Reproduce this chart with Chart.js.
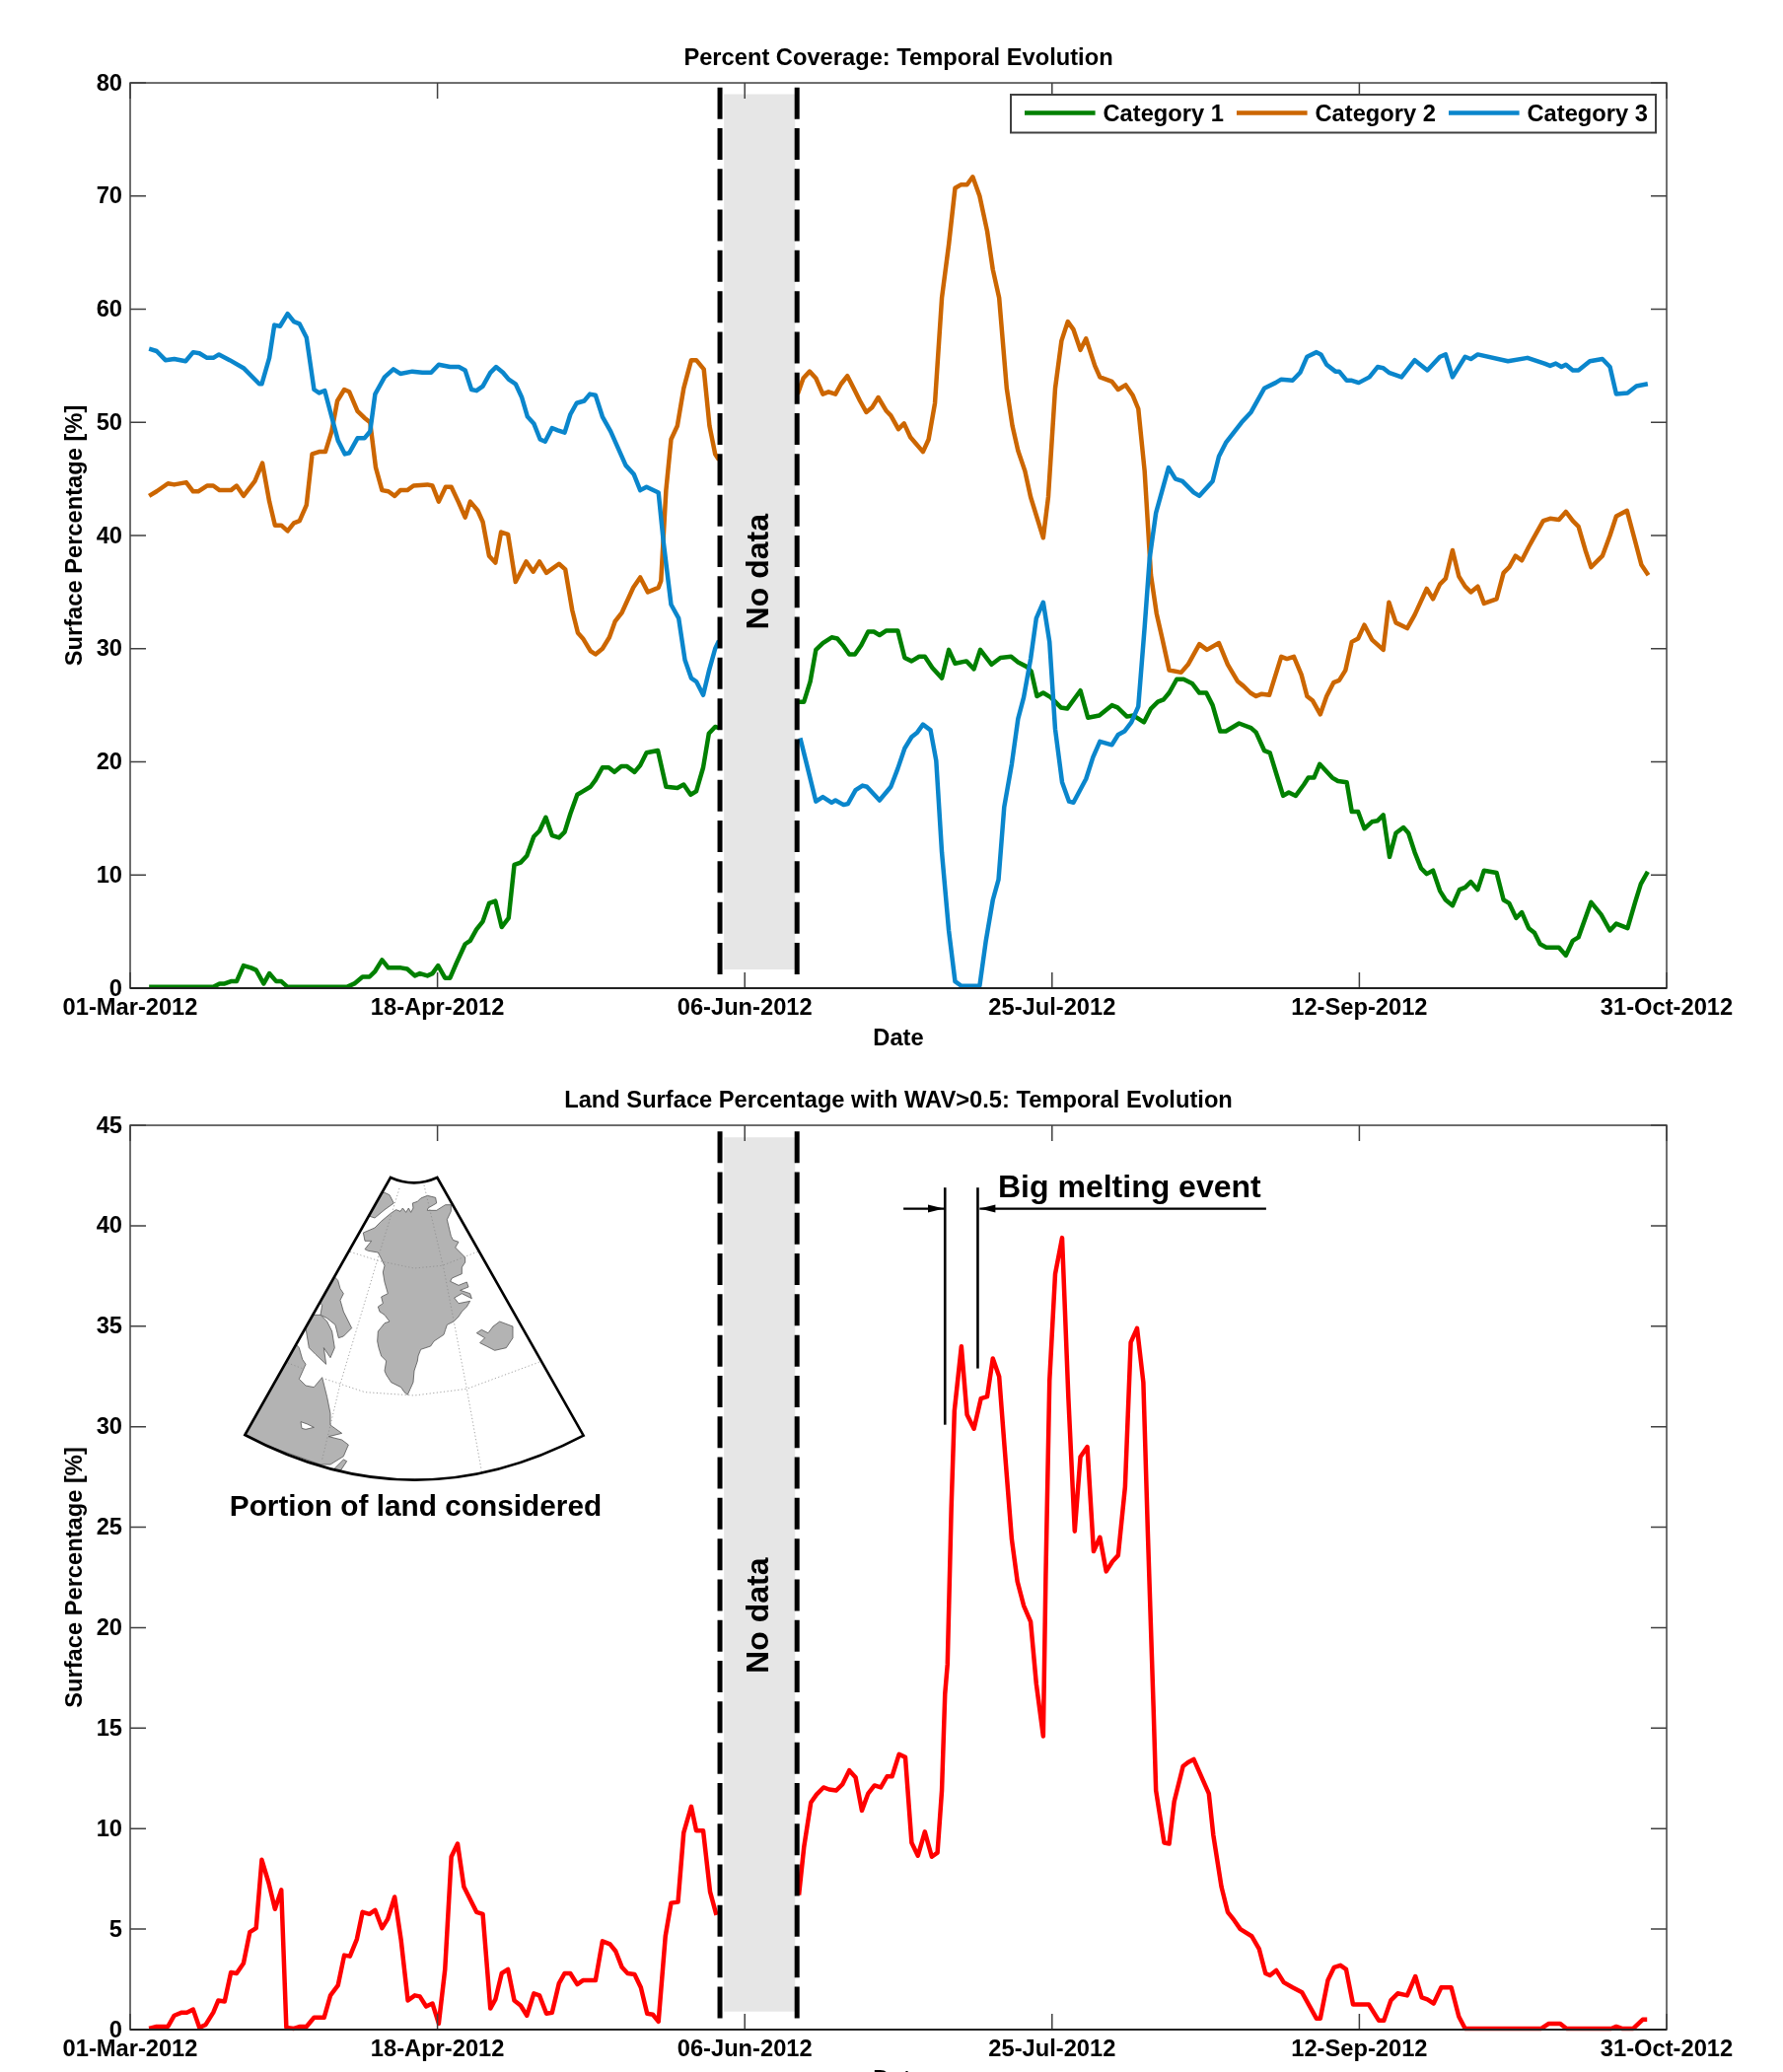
<!DOCTYPE html>
<html><head><meta charset="utf-8">
<script src="https://cdn.jsdelivr.net/npm/chart.js@4"></script>
<style>
html,body{margin:0;padding:0;background:#fff;width:1808px;height:2101px;overflow:hidden}
canvas{position:absolute;left:0}
#c1{top:0}#c2{top:1057px}
</style></head><body>
<canvas id="c1" width="1808" height="1110"></canvas>
<canvas id="c2" width="1808" height="1110"></canvas>
<script>
const xTickDays=[0,48.8,97.6,146.4,195.2,244];
const xTickLabels=['01-Mar-2012','18-Apr-2012','06-Jun-2012','25-Jul-2012','12-Sep-2012','31-Oct-2012'];

const cat1Days=[3,13.2,14.2,15,16,16.9,18,19.2,20,21.2,22.1,23.2,24,25,34.4,35.6,36.9,38,38.9,40,41,43,44,45.2,46,47.2,48,48.9,50,50.8,51.8,53.2,54,55,56,57,58,59,60.1,61,62,63,64.1,65,66,67,68.1,69,69.9,71,71.9,73.1,73.9,75,76,76.9,78,78.9,80.1,81,82,83.8,85.1,86.9,87.9,89,89.9,91,91.9,92.9,93.5,99,
106,107,108,108.9,110,111.4,112.3,113.2,114.2,115.1,116.1,117.2,118.1,119,120.1,121.9,123,124.1,125.3,126.2,127.4,128.9,130,131,132.8,134,135,136.8,138.2,139.9,141,142.4,143.1,144,145,146.2,147.8,148.8,150.9,152.1,153.9,155.9,156.8,158.3,159.3,161,162.1,163.2,164.1,165,166.2,167.3,168.7,169.8,170.9,171.9,173.1,174,176.1,178,178.8,180.1,181,182.1,183.1,184,185.1,186.4,187.1,188,188.9,190.9,191.8,193.2,194,195,196,197.2,198.1,199,200,201,202.2,203,204,205,205.9,206.9,208,208.9,210,211.1,212,212.9,214,215,217,218.1,219,220.1,221,222.1,223,223.9,224.9,226.9,228,229.1,230,232,233.6,235,236,237.8,239,239.9,241];
const cat1Values=[0.1,0.1,0.4,0.4,0.6,0.6,2,1.8,1.6,0.4,1.3,0.6,0.6,0.1,0.1,0.4,1,1,1.5,2.5,1.8,1.8,1.7,1.1,1.3,1.1,1.3,2,0.9,0.9,2.2,3.9,4.2,5.2,5.9,7.5,7.7,5.4,6.2,10.9,11.1,11.7,13.4,13.9,15.1,13.5,13.3,13.8,15.4,17.1,17.4,17.8,18.4,19.5,19.5,19.1,19.6,19.6,19.1,19.7,20.8,21,17.8,17.7,18,17.1,17.4,19.5,22.5,23.1,23,null,
25.3,25.3,27.1,29.9,30.5,31,30.9,30.3,29.5,29.5,30.3,31.5,31.5,31.2,31.6,31.6,29.2,28.9,29.3,29.3,28.3,27.4,29.9,28.7,28.9,28.2,29.9,28.6,29.2,29.3,28.8,28.4,28,25.8,26.1,25.7,24.8,24.7,26.3,23.9,24.1,25,24.8,24,24.1,23.5,24.7,25.3,25.5,26.1,27.3,27.3,26.9,26.1,26.1,25,22.7,22.7,23.4,23,22.6,21,20.8,18.8,17,17.3,17,18,18.6,18.6,19.8,18.6,18.3,18.2,15.6,15.6,14.1,14.7,14.8,15.3,11.6,13.7,14.2,13.7,12,10.6,10.1,10.4,8.6,7.8,7.3,8.7,8.9,9.4,8.7,10.4,10.2,7.8,7.5,6.2,6.7,5.3,4.9,3.9,3.6,3.6,2.9,4.2,4.5,7.6,6.5,5.1,5.7,5.3,7.6,9.2,10.3];

const cat2Days=[3,4.2,6,7,8.9,10,10.8,12.2,13.2,14.2,16,16.9,18,19.8,21,22.1,23,24,25,26,26.9,28,28.9,30,31,32,32.9,34,34.8,36.1,37.2,38.1,39,40,41,42,42.9,44,45,47.2,48,49,50.1,51,52.1,53.2,54,55.2,56,57,58,58.9,60,61.2,62.9,64,65,66.1,68.1,69.1,70.2,71.1,71.9,73.1,73.9,75,76.1,77,78.1,79.9,81,82.2,83.9,84.3,85.1,85.9,86.9,87.9,89.1,89.9,91.1,92,92.9,93.5,99,
106,106.9,107.9,108.9,110,110.9,112,112.9,113.9,115,115.9,116.9,117.8,118.8,120.1,120.8,122,122.9,123.9,125.9,126.8,127.8,128.9,130,131,131.9,132.9,133.8,134.9,136.1,137,138,139.2,140.1,141,142.1,143,145,145.8,146.9,147.9,148.9,149.8,150.9,151.8,153.2,154,155.9,156.9,158.1,159.2,160.1,161.1,162.1,163,163.9,165,166.9,168,169.8,171,172.9,174.3,175.9,176.8,177.9,178.8,179.7,180.9,182.8,183.7,184.8,186,186.9,187.8,189,190,191.1,192,193,194,195,196,197.2,199,199.9,201,202.8,204,205.9,206.9,208,208.9,210,211,212,212.9,214,215,217,218.1,219,220,221,222.1,222.8,224.4,225.5,226.9,228,229.1,230,231.1,232,233.8,235,236,237.7,239,240,241.1];
const cat2Values=[43.5,43.9,44.6,44.5,44.7,43.9,43.9,44.4,44.4,44,44,44.4,43.5,44.8,46.4,43,40.9,40.9,40.4,41.1,41.3,42.7,47.2,47.4,47.4,49.2,51.9,52.9,52.7,51,50.4,50,46,44,43.9,43.5,44,44,44.4,44.5,44.4,43,44.3,44.3,43,41.6,43,42.2,41.2,38.2,37.6,40.3,40.1,35.9,37.7,36.8,37.7,36.7,37.5,37,33.4,31.4,30.9,29.8,29.5,30,31,32.4,33.2,35.4,36.3,35,35.4,36,44,48.5,49.7,53,55.5,55.5,54.7,49.7,47.2,46.7,null,
52.5,53.9,54.5,53.9,52.5,52.7,52.5,53.4,54.1,52.9,51.9,50.9,51.3,52.2,51,50.6,49.4,49.9,48.7,47.4,48.5,51.7,61,65.7,70.7,71,71,71.7,70,66.9,63.5,61,53,49.7,47.5,45.7,43.4,39.8,43.4,53,57.2,58.9,58.2,56.4,57.4,55,54,53.6,52.9,53.3,52.4,51.2,45.7,36.5,33.1,30.9,28.1,27.9,28.6,30.4,29.9,30.5,28.6,27.1,26.7,26.1,25.8,26,25.9,29.3,29.1,29.3,27.7,25.8,25.4,24.2,25.8,27,27.2,28.1,30.6,30.9,32.1,30.8,29.9,34.1,32.3,31.8,33,35.3,34.4,35.7,36.2,38.7,36.4,35.5,35,35.5,34,34.4,36.7,37.2,38.2,37.8,39,39.7,41.3,41.5,41.4,42.1,41.3,40.8,38.7,37.2,38.2,40,41.7,42.2,39.5,37.4,36.5];

const cat3Days=[3,4.2,5.6,7,8.8,10,11,12.2,13.2,14.1,15.8,18,20.5,20.9,22.1,22.9,23.8,25,26,26.9,28,29.2,30,30.9,31.9,33,34.1,34.8,36.1,37.2,38.1,38.9,40.4,41.8,42.9,44.8,46.4,47.8,49,50.8,52.2,53.2,54.2,55,56,57.2,58.1,59.2,60.1,61.2,62.2,63.1,64.1,65.1,65.9,67,67.9,69,69.9,70.9,72.1,73,73.9,75,76.3,77.5,78.7,80,81,82,83.9,84.7,85.9,87.1,88.1,89.1,89.9,91,91.9,92.9,93.5,99,
106.4,107.3,108.9,110,111.4,112,113.3,114,115.2,116.3,117,119,120.8,121.9,123,124.1,125,125.9,127.1,128,128.9,130,131,132,134.9,135.9,137,137.9,138.8,140,141,141.9,143,143.9,145,146,146.9,148,149.1,149.8,151.8,152.9,154,155.9,156.9,157.9,159,160.1,161.1,161.9,162.9,163.9,164.9,166,167.1,168.9,169.8,171.9,172.9,174,176.5,178,180.1,181.9,182.8,184.6,185.8,186.9,188.4,189.1,190,191.4,192,193.2,194,195.1,196.8,198.1,199,199.9,201.9,204,206,208,208.9,210,212,212.9,214,218.8,221.9,224.6,225.5,226.4,227.3,228,229.1,230,231.8,233.8,235,236,237.8,239.2,241];
const cat3Values=[56.5,56.3,55.5,55.6,55.4,56.2,56.1,55.7,55.7,56,55.5,54.8,53.4,53.4,55.7,58.6,58.5,59.6,58.9,58.7,57.5,52.9,52.6,52.8,50.7,48.4,47.2,47.3,48.6,48.6,49.2,52.5,54,54.7,54.3,54.5,54.4,54.4,55.1,54.9,54.9,54.6,52.9,52.8,53.2,54.4,54.9,54.4,53.8,53.4,52.2,50.5,49.9,48.5,48.3,49.5,49.3,49.1,50.7,51.7,51.9,52.5,52.4,50.5,49.2,47.7,46.2,45.4,44,44.3,43.8,39.4,33.9,32.7,29,27.4,27.1,25.9,28,30,30.7,null,
22.1,20.1,16.5,16.9,16.4,16.6,16.2,16.3,17.5,17.9,17.8,16.6,17.8,19.4,21.2,22.2,22.6,23.3,22.8,20.1,12,5.1,0.6,0.2,0.2,4.2,7.8,9.6,16,19.8,23.8,25.7,29.1,32.7,34.1,30.6,22.9,18.2,16.5,16.4,18.5,20.4,21.8,21.5,22.4,22.7,23.5,24.9,31.9,38,42,44,46,45,44.8,43.8,43.5,44.8,47,48.2,50,50.9,53,53.5,53.8,53.7,54.4,55.8,56.2,56,55.1,54.5,54.5,53.7,53.7,53.5,54,54.9,54.8,54.4,54,55.5,54.6,55.8,56,54,55.8,55.6,56,55.4,55.7,55.2,55,55.2,54.9,55.1,54.6,54.6,55.4,55.6,54.9,52.5,52.6,53.2,53.4];

const wavDays=[3,4.2,6,7,8.2,9,10,11,12,13.2,14,15,16,16.9,18,19,20,20.9,22,23,24,24.8,26,27,28,29.2,30.8,31.8,33,34,34.9,36,36.9,38,38.9,40,40.9,42,43,44.1,45.2,46,47,48,49,50,51,52,53,55,56,57.2,58,59,60,61,62,63,64.1,65,66.1,67,68.1,69,69.9,71,71.9,73.9,75,76.2,77.1,78.1,79,80.1,81.1,82.1,83,83.9,85,85.9,87,87.9,89.1,89.9,91,92.1,93.1,99,
106.2,107,108.1,109,110.1,111,112.1,113.1,114.2,115.2,116.2,117.2,118.2,119.2,120.2,121,122.1,123.1,124.1,125.1,126.2,127.3,128.2,128.9,129.4,129.8,130.4,130.9,132,132.9,134,135.1,136.1,137,138,138.8,140,140.9,141.9,143,143.9,145,145.4,146,146.9,148,149,150,150.9,152,153,154,155,156,156.9,158,158.9,159.9,160.9,161.6,162.5,162.9,164.2,165,165.8,167.2,168,168.9,171.3,172,173.3,174.3,175.3,176.3,178.1,179.3,180.3,181,182,183.2,184.6,186.1,188.4,189,190.2,191.2,192.2,193.1,194.2,196.7,198.3,199.1,200.2,201.3,202.8,204.1,205.1,206,207,208.2,209.8,211,212,224.1,225.3,227.1,228.1,235.2,236,236.9,238.7,240.2,240.9];
const wavValues=[0.05,0.15,0.15,0.7,0.85,0.85,1,0.1,0.25,0.85,1.45,1.4,2.85,2.8,3.3,4.85,5.05,8.45,7.3,6,6.95,0.1,0.05,0.15,0.15,0.6,0.6,1.7,2.2,3.7,3.65,4.5,5.85,5.75,5.95,5.05,5.5,6.6,4.5,1.45,1.7,1.65,1.15,1.3,0.3,3,8.6,9.25,7.1,5.85,5.75,1.05,1.5,2.8,3,1.45,1.2,0.7,1.8,1.7,0.8,0.85,2.3,2.8,2.8,2.25,2.45,2.45,4.4,4.25,3.9,3.1,2.8,2.75,2.1,0.8,0.75,0.4,4.65,6.3,6.35,9.8,11.1,9.9,9.9,6.85,5.7,null,
6.7,9.07,11.3,11.7,12.05,11.95,11.9,12.2,12.9,12.55,10.9,11.75,12.15,12.05,12.6,12.6,13.7,13.55,9.3,8.65,9.85,8.6,8.8,11.9,16.7,18.2,25.9,30.8,34,30.6,29.9,31.4,31.5,33.4,32.5,29.2,24.4,22.3,21.1,20.3,17.2,14.6,22.6,32.3,37.6,39.4,31.4,24.8,28.5,29,23.8,24.5,22.8,23.3,23.6,27,34.2,34.9,32.2,24.8,16.1,11.9,9.3,9.25,11.35,13.1,13.3,13.45,11.75,9.7,7.1,5.85,5.45,5,4.65,4,2.8,2.7,2.95,2.35,2.1,1.85,0.55,0.55,2.45,3.1,3.2,3,1.25,1.25,0.45,0.45,1.45,1.8,1.7,2.65,1.6,1.5,1.3,2.1,2.1,0.65,0.05,0.05,0.3,0.3,0.05,0.05,0.15,0.05,0.05,0.5,0.5];

const noDataEdges=[93.66,105.9];
const noDataBand=[94.3,105.6];
const panel1Band=[79,1.65], panel1Dash=[79.6,1.05], panel1Ticks=[0,10,20,30,40,50,60,70,80];
const panel2Band=[44.4,0.9], panel2Dash=[44.7,0.55], panel2Ticks=[0,5,10,15,20,25,30,35,40,45];
const meltLines=[[129.4,41.9,30.1],[134.6,41.9,32.9]];
const meltArrows=[[122.8,129.2,40.85],[180.4,134.9,40.85]];

const WIDE='"Liberation Sans",Arial,sans-serif';
const FS=23.7;
const GREEN='#008000',ORANGE='#cc6600',BLUE='#0a86cc',RED='#ff0000';

/* ---- inset map outlines (shape of the picture, not data) ---- */
const MAP_X0=220,MAP_Y0=1170,MAP_S=1/3;
const mapGreenland=[[640,127],[665,133],[668,150],[642,165],[640,172],[668,172],[695,155],[712,155],[712,175],[700,200],[706,225],[712,250],[718,262],[735,268],[725,285],[740,300],[755,315],[755,330],[745,345],[745,365],[715,378],[710,388],[735,400],[760,390],[765,405],[740,415],[770,425],[775,440],[745,425],[722,438],[735,455],[770,448],[760,465],[745,480],[735,495],[720,510],[700,520],[695,535],[690,550],[660,570],[650,585],[620,595],[612,615],[610,630],[600,660],[597,695],[588,715],[580,733],[570,725],[560,710],[530,695],[515,672],[510,660],[515,630],[500,615],[492,590],[488,570],[490,540],[510,515],[525,510],[510,490],[495,480],[490,465],[505,455],[500,435],[520,425],[510,390],[505,360],[510,340],[498,315],[490,300],[460,295],[450,290],[470,265],[450,265],[445,240],[480,225],[500,205],[530,180],[545,170],[558,175],[565,165],[575,178],[583,165],[590,178],[597,165],[595,150],[610,145],[620,135]];
const mapEllesmere=[[495,118],[510,118],[525,125],[538,150],[510,170],[480,195],[465,190],[440,195]];
const mapBaffin=[[345,368],[352,368],[368,385],[375,410],[385,425],[375,445],[385,480],[400,510],[410,530],[385,555],[370,560],[360,520],[335,500],[315,490],[320,460],[305,445],[315,430]];
const mapVictoria=[[290,490],[315,490],[335,510],[350,540],[358,590],[345,620],[325,590],[332,640],[300,610],[280,590],[270,530],[260,520],[275,500]];
const mapCanada=[[238,577],[250,590],[260,625],[270,640],[250,685],[270,705],[295,710],[320,680],[335,740],[345,790],[345,825],[380,850],[340,860],[380,870],[400,885],[385,920],[345,945],[315,945],[215,910],[60,855],[200,590]];
const mapLabrador=[[385,930],[395,935],[375,965],[350,965]];
const mapIceland=[[860,510],[900,525],[900,560],[880,590],[845,598],[820,585],[800,575],[815,560],[790,545],[805,535],[825,545],[840,525]];
const mapLake=[[255,815],[275,822],[295,832],[270,838],[258,835]];
const mapGrid=[[[405,298],[490,325],[600,348],[685,340],[800,295]],[[205,632],[265,655]],[[330,685],[450,725],[600,735],[760,715],[990,630]],[[555,105],[495,300],[375,700],[320,930]],[[630,95],[690,350],[760,715],[805,965]]];

function drawMap(ctx,top){
  const X=x=>MAP_X0+x*MAP_S, Y=y=>MAP_Y0+y*MAP_S-top;
  const sector=()=>{ctx.beginPath();ctx.moveTo(X(528),Y(72));ctx.quadraticCurveTo(X(600),Y(104),X(670),Y(72));ctx.lineTo(X(1115),Y(857));ctx.quadraticCurveTo(X(600),Y(1128),X(85),Y(855));ctx.closePath();};
  ctx.save();ctx.fillStyle='#fff';sector();ctx.fill();sector();ctx.clip();
  ctx.fillStyle='#b3b3b3';ctx.strokeStyle='#555';ctx.lineWidth=0.8;
  [mapGreenland,mapEllesmere,mapBaffin,mapVictoria,mapCanada,mapLabrador,mapIceland].forEach(p=>{ctx.beginPath();p.forEach((q,i)=>i?ctx.lineTo(X(q[0]),Y(q[1])):ctx.moveTo(X(q[0]),Y(q[1])));ctx.closePath();ctx.fill();ctx.stroke();});
  ctx.fillStyle='#fff';ctx.beginPath();mapLake.forEach((q,i)=>i?ctx.lineTo(X(q[0]),Y(q[1])):ctx.moveTo(X(q[0]),Y(q[1])));ctx.closePath();ctx.fill();ctx.stroke();
  ctx.strokeStyle='#8a8a8a';ctx.lineWidth=0.8;ctx.setLineDash([1.2,2.4]);
  mapGrid.forEach(p=>{ctx.beginPath();p.forEach((q,i)=>i?ctx.lineTo(X(q[0]),Y(q[1])):ctx.moveTo(X(q[0]),Y(q[1])));ctx.stroke();});
  ctx.restore();
  ctx.strokeStyle='#000';ctx.lineWidth=2.6;ctx.lineJoin='miter';sector();ctx.stroke();
  ctx.fillStyle='#000';ctx.font='bold 29.8px '+WIDE;ctx.textAlign='center';ctx.textBaseline='middle';
  ctx.fillText('Portion of land considered',421.5,1529-top);
}

const backdrop={id:'backdrop',beforeDatasetsDraw(chart){
  const {ctx,scales:{x,y}}=chart,o=chart.options.plugins.backdrop;
  const l=x.getPixelForValue(noDataBand[0]),r=x.getPixelForValue(noDataBand[1]);
  const t=y.getPixelForValue(o.band[0]),b=y.getPixelForValue(o.band[1]);
  ctx.save();ctx.fillStyle='#e6e6e6';ctx.fillRect(l,t,r-l,b-t);ctx.restore();
}};
const frame={id:'frame',afterDatasetsDraw(chart){
  const {ctx,chartArea:a,scales:{x,y}}=chart,o=chart.options.plugins.frame;
  ctx.save();
  ctx.strokeStyle='#404040';ctx.lineWidth=1.5;
  ctx.beginPath();
  x.ticks.forEach(t=>{const p=x.getPixelForValue(t.value);ctx.moveTo(p,a.top);ctx.lineTo(p,a.top+16);ctx.moveTo(p,a.bottom);ctx.lineTo(p,a.bottom-16);});
  y.ticks.forEach(t=>{const p=y.getPixelForValue(t.value);ctx.moveTo(a.left,p);ctx.lineTo(a.left+16,p);ctx.moveTo(a.right,p);ctx.lineTo(a.right-16,p);});
  ctx.stroke();
  ctx.strokeRect(a.left,a.top,a.right-a.left,a.bottom-a.top);
  ctx.strokeStyle='#222';ctx.lineWidth=2;ctx.beginPath();ctx.moveTo(a.left,a.bottom);ctx.lineTo(a.right,a.bottom);ctx.stroke();
  /* No data */
  ctx.fillStyle='#000';ctx.font='bold 32px '+WIDE;ctx.textAlign='center';ctx.textBaseline='middle';
  ctx.translate(x.getPixelForValue((noDataBand[0]+noDataBand[1])/2),y.getPixelForValue(o.noDataY));ctx.rotate(-Math.PI/2);
  ctx.fillText('No data',0,0);
  ctx.restore();
  if(o.legend) drawLegend(chart);
  if(o.melt) drawMelt(chart);
  if(o.map) drawMap(ctx,o.top);
}};
function drawLegend(chart){
  const ctx=chart.ctx;ctx.save();
  ctx.fillStyle='#fff';ctx.fillRect(1025,96,654,38.5);
  ctx.strokeStyle='#404040';ctx.lineWidth=2;ctx.strokeRect(1025,96,654,38.5);
  const st=[1039,1254,1469];let i=0;
  chart.data.datasets.forEach(d=>{ if(!d.label) return;
    ctx.strokeStyle=d.borderColor;ctx.lineWidth=4.5;ctx.beginPath();ctx.moveTo(st[i],114.6);ctx.lineTo(st[i]+71.6,114.6);ctx.stroke();
    ctx.fillStyle='#000';ctx.font='bold '+FS+'px '+WIDE;ctx.textAlign='left';ctx.textBaseline='middle';
    ctx.fillText(d.label,st[i]+79.5,116);i++;});
  ctx.restore();
}
function drawMelt(chart){
  const {ctx,scales:{x,y}}=chart;ctx.save();ctx.strokeStyle='#000';ctx.fillStyle='#000';
  meltLines.forEach(m=>{ctx.lineWidth=2.6;ctx.beginPath();ctx.moveTo(x.getPixelForValue(m[0]),y.getPixelForValue(m[1]));ctx.lineTo(x.getPixelForValue(m[0]),y.getPixelForValue(m[2]));ctx.stroke();});
  meltArrows.forEach(m=>{const a=x.getPixelForValue(m[0]),b=x.getPixelForValue(m[1]),p=y.getPixelForValue(m[2]),d=Math.sign(b-a);
    ctx.lineWidth=2.2;ctx.beginPath();ctx.moveTo(a,p);ctx.lineTo(b,p);ctx.stroke();
    ctx.beginPath();ctx.moveTo(b,p);ctx.lineTo(b-d*16,p-4);ctx.lineTo(b-d*16,p+4);ctx.closePath();ctx.fill();});
  ctx.fillStyle='#000';ctx.font='bold 32px '+WIDE;ctx.textAlign='left';ctx.textBaseline='middle';
  ctx.fillText('Big melting event',1012,y.getPixelForValue(41.85));
  ctx.restore();
}

function series(label,days,vals,color,order){
  return {label,data:days.map((d,i)=>({x:d,y:vals[i]})),borderColor:color,backgroundColor:color,borderWidth:4.5,pointRadius:0,tension:0,spanGaps:false,clip:false,order,borderJoinStyle:'round'};
}
function dash(v,ys){
  return {label:'',data:[{x:v,y:ys[0]},{x:v,y:ys[1]}],borderColor:'#000',borderWidth:5,borderDash:[32,9.3],pointRadius:0,tension:0,clip:false,order:0};
}
function panel(id,title,yTicks,yMax,datasets,xHeight,extra){
  return new Chart(document.getElementById(id),{
    type:'line',
    data:{datasets},
    plugins:[backdrop,frame],
    options:{
      responsive:false,animation:false,devicePixelRatio:1,
      layout:{padding:{left:0,right:118,top:0,bottom:0}},
      plugins:{
        legend:{display:false},tooltip:{enabled:false},
        title:{display:true,fullSize:false,text:title,color:'#000',font:{family:WIDE,size:FS,weight:'bold',lineHeight:1.2},padding:{top:45.3,bottom:10.3}},
        backdrop:{band:extra.band},
        frame:extra
      },
      scales:{
        x:{type:'linear',position:'bottom',min:0,max:244,
           afterBuildTicks(s){s.ticks=xTickDays.map(v=>({value:v}));},
           afterFit(s){s.height=xHeight;},
           grid:{display:false,drawTicks:false},border:{display:false},
           ticks:{autoSkip:false,maxRotation:0,minRotation:0,padding:9,color:'#000',font:{family:WIDE,size:FS,weight:'bold',lineHeight:1},
                  callback:(v,i)=>xTickLabels[i]},
           title:{display:true,text:'Date',color:'#000',font:{family:WIDE,size:FS,weight:'bold',lineHeight:1.2},padding:{top:0,bottom:xHeight-50-14.2-1.3}}},
        y:{type:'linear',min:0,max:yMax,
           afterBuildTicks(s){s.ticks=yTicks.map(v=>({value:v}));},
           afterFit(s){s.width=132;},
           grid:{display:false,drawTicks:false},border:{display:false},
           ticks:{padding:8,labelOffset:1,color:'#000',font:{family:WIDE,size:FS,weight:'bold'},autoSkip:false},
           title:{display:true,text:'Surface Percentage [%]',color:'#000',font:{family:WIDE,size:FS,weight:'bold',lineHeight:1.2},padding:{top:62,bottom:0}}}
      }
    }
  });
}
panel('c1','Percent Coverage: Temporal Evolution',panel1Ticks,80,[
  dash(noDataEdges[0],panel1Dash),dash(noDataEdges[1],panel1Dash),
  series('Category 1',cat1Days,cat1Values,GREEN,3),
  series('Category 2',cat2Days,cat2Values,ORANGE,2),
  series('Category 3',cat3Days,cat3Values,BLUE,1)
],108,{band:panel1Band,noDataY:36.8,legend:true,top:0});
panel('c2','Land Surface Percentage with WAV>0.5: Temporal Evolution',panel2Ticks,45,[
  dash(noDataEdges[0],panel2Dash),dash(noDataEdges[1],panel2Dash),
  series('WAV>0.5',wavDays,wavValues,RED,1)
],109,{band:panel2Band,noDataY:20.6,melt:true,map:true,top:1057});
</script>
</body></html>
